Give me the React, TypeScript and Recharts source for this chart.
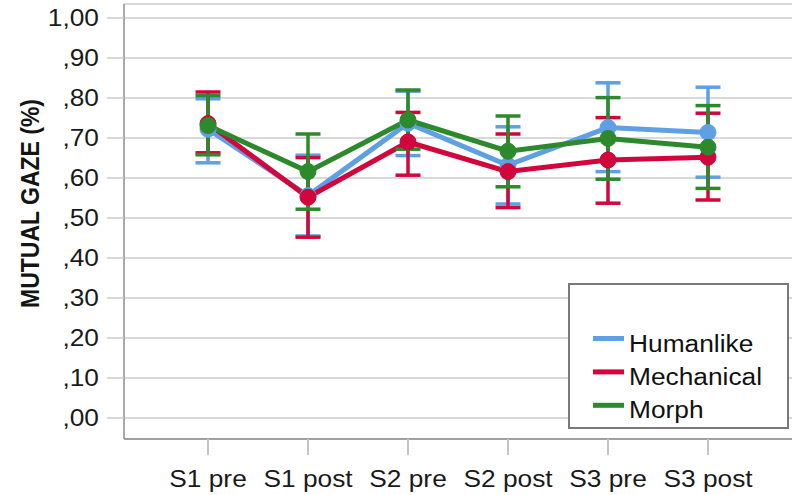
import React from "react";
import { LineChart, Line, XAxis, YAxis, CartesianGrid, ErrorBar } from "recharts";

// Mean mutual gaze per session, with lower / upper CI bounds
const sessions = ["S1 pre", "S1 post", "S2 pre", "S2 post", "S3 pre", "S3 post"];

const humanlikeMean = [0.722, 0.556, 0.737, 0.632, 0.726, 0.714];
const humanlikeLow = [0.638, 0.455, 0.656, 0.535, 0.616, 0.602];
const humanlikeHigh = [0.798, 0.657, 0.817, 0.728, 0.838, 0.827];

const mechanicalMean = [0.736, 0.552, 0.69, 0.616, 0.645, 0.652];
const mechanicalLow = [0.663, 0.452, 0.607, 0.526, 0.537, 0.545];
const mechanicalHigh = [0.815, 0.651, 0.764, 0.71, 0.751, 0.762];

const morphMean = [0.731, 0.616, 0.745, 0.667, 0.699, 0.677];
const morphLow = [0.658, 0.522, 0.672, 0.578, 0.597, 0.574];
const morphHigh = [0.806, 0.71, 0.82, 0.755, 0.801, 0.781];

const yTicks = [0, 0.1, 0.2, 0.3, 0.4, 0.5, 0.6, 0.7, 0.8, 0.9, 1.0];

const series = [
  { key: "humanlike", name: "Humanlike", color: "#5f9fe6", mean: humanlikeMean, low: humanlikeLow, high: humanlikeHigh },
  { key: "mechanical", name: "Mechanical", color: "#d2063c", mean: mechanicalMean, low: mechanicalLow, high: mechanicalHigh },
  { key: "morph", name: "Morph", color: "#2c8a2c", mean: morphMean, low: morphLow, high: morphHigh },
];

const data = sessions.map((session, i) => {
  const row: Record<string, any> = { session };
  series.forEach((s) => {
    row[s.key] = s.mean[i];
    row[s.key + "Err"] = [s.mean[i] - s.low[i], s.high[i] - s.mean[i]];
  });
  return row;
});

const FONT = "'Liberation Sans', Arial, sans-serif";
const STRETCH = 1.12;

const fmt = (v: number) => v.toFixed(2).replace(".", ",").replace(/^0/, "");

const XTick = ({ x, y, payload }: any) => (
  <g transform={`translate(${x},${y})`}>
    <text transform={`scale(${STRETCH},1)`} textAnchor="middle" dy="0.71em" fontSize={23.5} fontFamily={FONT} fill="#1a1a1a">
      {payload.value}
    </text>
  </g>
);

const YTick = ({ x, y, payload }: any) => (
  <g transform={`translate(${x},${y})`}>
    <text transform={`scale(${STRETCH},1)`} textAnchor="end" dy="0.355em" fontSize={23.5} fontFamily={FONT} fill="#1a1a1a">
      {fmt(payload.value)}
    </text>
  </g>
);

export default function App() {
  return (
    <div style={{ position: "absolute", left: 0, top: 0, width: 792, height: 495, background: "#fff" }}>
      <LineChart width={792} height={495} data={data} margin={{ top: 4, right: 0, left: 0, bottom: 0 }}>
        <CartesianGrid vertical={false} stroke="#cccccc" strokeWidth={1.5} />
        <XAxis
          dataKey="session"
          height={56}
          padding={{ left: 84, right: 84 }}
          tickSize={16}
          tickMargin={15}
          tickLine={{ stroke: "#c4c4c4", strokeWidth: 2 }}
          axisLine={{ stroke: "#8c8c8c", strokeWidth: 1.5 }}
          tick={<XTick />}
        />
        <YAxis
          type="number"
          width={124}
          domain={[-0.0525, 1.035]}
          ticks={yTicks}
          tickSize={17}
          tickMargin={8}
          tickLine={{ stroke: "#cccccc", strokeWidth: 1.5 }}
          axisLine={{ stroke: "#8c8c8c", strokeWidth: 1.5 }}
          tick={<YTick />}
        />
        {series.map((s) => (
          <Line
            key={s.key}
            dataKey={s.key}
            name={s.name}
            stroke={s.color}
            strokeWidth={5}
            dot={{ r: 8, fill: s.color, stroke: s.color, strokeWidth: 1 }}
            activeDot={false}
            isAnimationActive={false}
          >
            <ErrorBar dataKey={s.key + "Err"} direction="y" width={12.5} stroke={s.color} strokeWidth={3.5} />
          </Line>
        ))}
      </LineChart>

      {/* axis title and legend box drawn over the chart */}
      <svg width={792} height={495} style={{ position: "absolute", left: 0, top: 0, pointerEvents: "none" }}>
        <text
          transform={`translate(30,203.5) scale(${STRETCH},1) rotate(-90)`}
          textAnchor="middle"
          dy="0.355em"
          fontSize={23}
          fontWeight="bold"
          fontFamily={FONT}
          fill="#141414"
        >
          MUTUAL GAZE (%)
        </text>
        <rect x={569} y={284} width={219} height={144} fill="#fff" stroke="#7a7a7a" strokeWidth={2} />
        {series.map((s, i) => (
          <g key={s.key} transform={`translate(0,${i * 33.4})`}>
            <rect x={593} y={336} width={31} height={5} fill={s.color} />
            <text
              transform={`translate(629,351.5) scale(${STRETCH},1)`}
              fontSize={23.5}
              fontFamily={FONT}
              fill="#111"
            >
              {s.name}
            </text>
          </g>
        ))}
      </svg>
    </div>
  );
}
